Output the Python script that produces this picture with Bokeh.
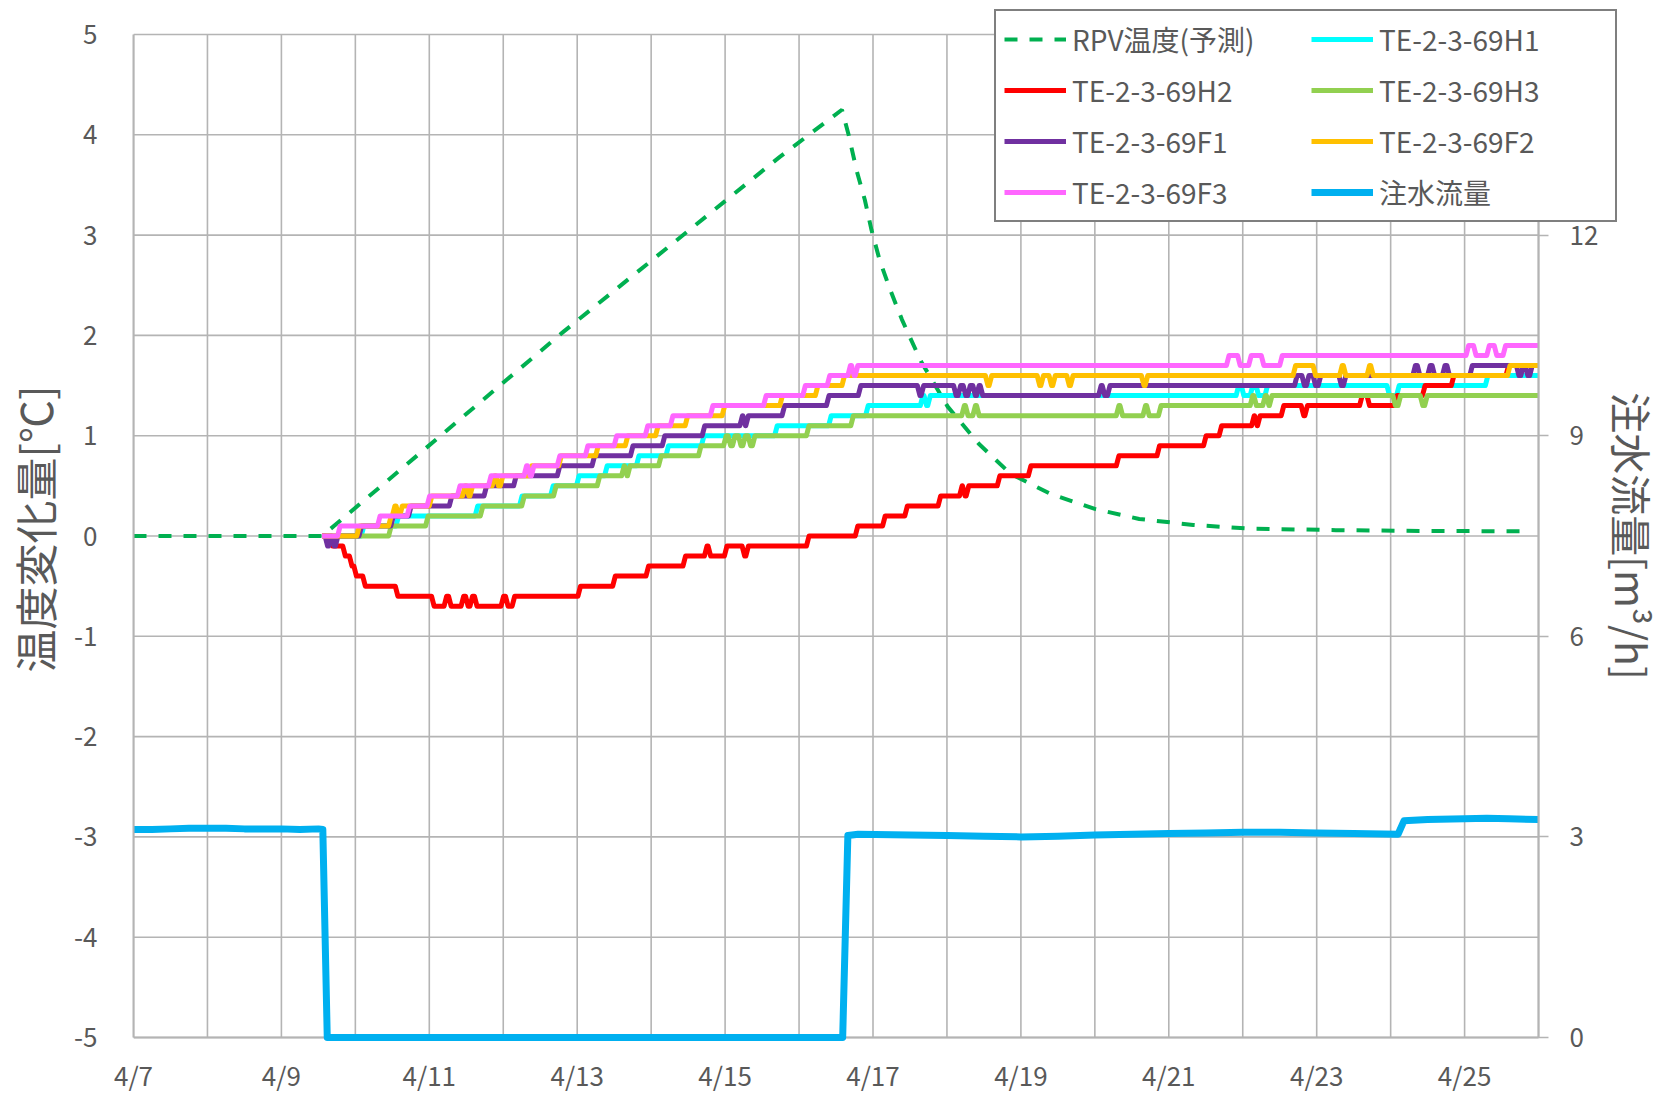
from bokeh.plotting import figure
from bokeh.models import Range1d, LinearAxis, FixedTicker, Legend, LegendItem
from bokeh.embed import file_html
from bokeh.resources import INLINE

# ---------------- data (x = days since 4/7 00:00) ----------------
x_tick_days = [0, 2, 4, 6, 8, 10, 12, 14, 16, 18]
x_tick_labels = ["4/7", "4/9", "4/11", "4/13", "4/15", "4/17", "4/19", "4/21", "4/23", "4/25"]
x_grid_days = list(range(0, 20))
x_end_day = 19  # 4/26
y_left_ticks = [-5, -4, -3, -2, -1, 0, 1, 2, 3, 4, 5]
y_left_labels = ["-5", "-4", "-3", "-2", "-1", "0", "1", "2", "3", "4", "5"]
y_right_ticks = [0, 3, 6, 9, 12]
y_right_max = 15

labels = ["RPV温度(予測)", "TE-2-3-69H1", "TE-2-3-69H2", "TE-2-3-69H3",
          "TE-2-3-69F1", "TE-2-3-69F2", "TE-2-3-69F3", "注水流量"]

rpv_t = [0.0, 2.55, 5.82, 8.74, 9.58, 9.67, 9.78, 9.89, 9.98, 10.09, 10.23, 10.39, 10.5,
         10.65, 11.01, 11.43, 11.86, 12.4, 13.0, 13.6, 14.33, 15.06, 16.26, 17.5, 18.9]
rpv_v = [0.0, 0.0, 2.04, 3.78, 4.25, 4.0, 3.64, 3.35, 3.05, 2.75, 2.46, 2.16, 1.98,
         1.74, 1.29, 0.92, 0.62, 0.42, 0.27, 0.17, 0.11, 0.075, 0.058, 0.05, 0.047]

# step series: value holds from each time until the next
h1_t = [2.58, 3.08, 3.55, 4.62, 5.22, 5.64, 5.99, 6.37, 6.80, 7.20, 7.68, 8.67, 9.40, 9.90,
        10.64, 10.69, 10.74, 14.91, 14.98, 15.10, 15.18, 15.30, 15.45, 16.95, 17.08, 18.28, 19.0]
h1_v = [0.0, 0.1, 0.2, 0.3, 0.4, 0.5, 0.6, 0.7, 0.8, 0.9, 1.0, 1.1, 1.2, 1.3,
        1.4, 1.3, 1.4, 1.5, 1.4, 1.5, 1.4, 1.5, 1.5, 1.4, 1.5, 1.6, 1.6]

h2_t = [2.55, 2.66, 2.83, 2.92, 2.98, 3.10, 3.54, 4.03, 4.20, 4.26, 4.43, 4.49, 4.55, 4.61,
        4.97, 5.03, 5.12, 6.01, 6.48, 6.93, 7.43, 7.72, 7.77, 7.99, 8.23, 8.28, 9.10, 9.76,
        10.13, 10.43, 10.88, 11.17, 11.21, 11.26, 11.68, 12.10, 13.29, 13.84, 14.47, 14.68,
        15.12, 15.16, 15.20, 15.52, 15.79, 15.84, 16.58, 16.68, 17.05, 17.43, 17.82, 18.56, 19.0]
h2_v = [0.0, -0.1, -0.2, -0.3, -0.4, -0.5, -0.6, -0.7, -0.6, -0.7, -0.6, -0.7, -0.6, -0.7,
        -0.6, -0.7, -0.6, -0.5, -0.4, -0.3, -0.2, -0.1, -0.2, -0.1, -0.2, -0.1, 0.0, 0.1,
        0.2, 0.3, 0.4, 0.5, 0.4, 0.5, 0.6, 0.7, 0.8, 0.9, 1.0, 1.1,
        1.2, 1.1, 1.2, 1.3, 1.2, 1.3, 1.4, 1.3, 1.4, 1.5, 1.6, 1.7, 1.7]

h3_t = [2.58, 3.45, 3.95, 4.69, 5.25, 5.68, 6.27, 6.60, 6.64, 6.68, 7.10, 7.64, 7.98, 8.04,
        8.10, 8.18, 8.24, 8.31, 8.37, 9.10, 9.70, 11.20, 11.25, 11.35, 11.40, 13.29, 13.34,
        13.65, 13.70, 13.86, 15.10, 15.15, 15.27, 15.32, 15.36, 17.03, 17.10, 17.40, 17.46, 19.0]
h3_v = [0.0, 0.1, 0.2, 0.3, 0.4, 0.5, 0.6, 0.7, 0.6, 0.7, 0.8, 0.9, 1.0, 0.9,
        1.0, 0.9, 1.0, 0.9, 1.0, 1.1, 1.2, 1.3, 1.2, 1.3, 1.2, 1.3, 1.2,
        1.3, 1.2, 1.3, 1.4, 1.3, 1.4, 1.3, 1.4, 1.3, 1.4, 1.3, 1.4, 1.4]

f1_t = [2.55, 2.59, 2.64, 2.68, 2.73, 3.05, 3.48, 3.72, 4.27, 4.74, 5.14, 5.73, 6.20, 6.72,
        7.15, 7.69, 8.20, 8.24, 8.28, 8.77, 9.37, 9.80, 10.60, 10.65, 11.09, 11.15, 11.22,
        11.28, 11.35, 11.40, 11.45, 13.05, 13.10, 13.17, 15.70, 15.80, 15.86, 15.95, 16.02,
        16.30, 16.36, 17.30, 17.36, 17.50, 17.56, 17.70, 17.76, 18.07, 18.70, 18.76, 18.82, 18.88, 19.0]
f1_v = [0.0, -0.1, 0.0, -0.1, 0.0, 0.1, 0.2, 0.3, 0.4, 0.5, 0.6, 0.7, 0.8, 0.9,
        1.0, 1.1, 1.2, 1.1, 1.2, 1.3, 1.4, 1.5, 1.4, 1.5, 1.4, 1.5, 1.4,
        1.5, 1.4, 1.5, 1.4, 1.5, 1.4, 1.5, 1.6, 1.5, 1.6, 1.5, 1.6,
        1.5, 1.6, 1.7, 1.6, 1.7, 1.6, 1.7, 1.6, 1.7, 1.6, 1.7, 1.6, 1.7, 1.7]

f2_t = [2.55, 3.02, 3.45, 3.50, 3.55, 3.60, 4.00, 4.45, 4.50, 4.55, 4.85, 4.90, 4.96, 5.35,
        5.75, 6.25, 6.65, 7.06, 7.46, 7.96, 8.74, 9.22, 9.58, 11.52, 11.57, 12.22, 12.27,
        12.38, 12.43, 12.62, 12.67, 13.63, 13.68, 15.68, 15.95, 16.31, 16.36, 16.68, 16.73, 18.58, 19.0]
f2_v = [0.0, 0.1, 0.2, 0.3, 0.2, 0.3, 0.4, 0.5, 0.4, 0.5, 0.6, 0.5, 0.6, 0.7,
        0.8, 0.9, 1.0, 1.1, 1.2, 1.3, 1.4, 1.5, 1.6, 1.5, 1.6, 1.5, 1.6,
        1.5, 1.6, 1.5, 1.6, 1.5, 1.6, 1.7, 1.6, 1.7, 1.6, 1.7, 1.6, 1.7, 1.7]

f3_t = [2.55, 2.76, 3.30, 3.70, 3.97, 4.38, 4.80, 5.28, 5.33, 5.38, 5.73, 6.11, 6.50, 6.92,
        7.26, 7.80, 8.52, 9.05, 9.38, 9.66, 9.71, 9.76, 14.78, 14.93, 15.08, 15.25, 15.50,
        18.02, 18.12, 18.30, 18.40, 18.52, 19.0]
f3_v = [0.0, 0.1, 0.2, 0.3, 0.4, 0.5, 0.6, 0.7, 0.6, 0.7, 0.8, 0.9, 1.0, 1.1,
        1.2, 1.3, 1.4, 1.5, 1.6, 1.7, 1.6, 1.7, 1.8, 1.7, 1.8, 1.7, 1.8,
        1.9, 1.8, 1.9, 1.8, 1.9, 1.9]

flow_t = [0.0, 0.25, 0.5, 0.75, 1.0, 1.25, 1.5, 1.75, 2.0, 2.25, 2.5, 2.56, 2.62, 9.59, 9.66,
          9.8, 10.5, 11.0, 11.5, 12.0, 12.5, 13.0, 13.5, 14.0, 14.5, 15.0, 15.5, 16.0, 16.5,
          17.1, 17.18, 17.5, 18.0, 18.3, 18.6, 19.0]
flow_v = [3.11, 3.11, 3.12, 3.13, 3.13, 3.13, 3.12, 3.12, 3.12, 3.11, 3.12, 3.11, 0.0, 0.0, 3.02,
          3.04, 3.03, 3.02, 3.01, 3.0, 3.01, 3.03, 3.04, 3.05, 3.06, 3.07, 3.07, 3.06, 3.05,
          3.04, 3.24, 3.26, 3.27, 3.28, 3.27, 3.26]


def step_path(ts, vs, rise=0.035):
    """Path of a stepped record: each change is drawn as a short slanted riser."""
    xs, ys = [ts[0]], [vs[0]]
    for i in range(1, len(ts)):
        if vs[i] != vs[i - 1]:
            xs += [ts[i], ts[i] + rise]
            ys += [vs[i - 1], vs[i]]
        else:
            xs.append(ts[i])
            ys.append(vs[i])
    return xs, ys


# ---------------- layout / styles ----------------
GRID = "#b4b4b4"
TXT = "#595959"
FONT = "Noto Sans CJK JP"

W, H = 1668, 1097
B_LEFT, B_TOP, B_RIGHT, B_BOTTOM = 133, 8, 0, 48
EXT_BOTTOM = 12          # frame extends a little below -5 so the right "0" label is not cut
PX_PER_DAY = 73.95
PX_PER_DEG = 100.3
frame_w = W - B_LEFT - B_RIGHT
frame_h = H - B_TOP - B_BOTTOM
x_max = frame_w / PX_PER_DAY
y_min = y_left_ticks[0] - EXT_BOTTOM / PX_PER_DEG
y_max = y_min + frame_h / PX_PER_DEG
flow_per_deg = y_right_max / (y_left_ticks[-1] - y_left_ticks[0])

p = figure(width=W, height=H, output_backend="svg", toolbar_location=None,
           x_range=Range1d(0, x_max), y_range=Range1d(y_min, y_max),
           min_border_left=B_LEFT, min_border_right=B_RIGHT,
           min_border_top=B_TOP, min_border_bottom=B_BOTTOM)
p.extra_y_ranges = {"flow": Range1d((y_min - y_left_ticks[0]) * flow_per_deg,
                                    (y_max - y_left_ticks[0]) * flow_per_deg)}
p.outline_line_color = None
p.background_fill_color = "white"
p.xgrid.visible = False
p.ygrid.visible = False

# grid lines limited to the plot area (4/7–4/26, -5..5)
n_x = len(x_grid_days)
n_y = len(y_left_ticks)
p.segment(x0=x_grid_days, y0=[y_left_ticks[0]] * n_x, x1=x_grid_days, y1=[y_left_ticks[-1]] * n_x,
          line_color=GRID, line_width=1.6, level="underlay")
p.segment(x0=[0] * n_y, y0=y_left_ticks, x1=[x_end_day] * n_y, y1=y_left_ticks,
          line_color=GRID, line_width=1.6, level="underlay")
p.segment(x0=[0], y0=[y_left_ticks[0]], x1=[x_end_day], y1=[y_left_ticks[0]],
          line_color=GRID, line_width=2.2, level="underlay")

# bottom axis (its line is the -5 grid line)
xa = p.xaxis[0]
xa.ticker = FixedTicker(ticks=x_tick_days)
xa.major_label_overrides = {d: lab for d, lab in zip(x_tick_days, x_tick_labels)}
xa.bounds = (0, x_end_day)
xa.major_tick_out = 0
xa.major_tick_in = 0
xa.minor_tick_out = 0
xa.minor_tick_in = 0
xa.axis_line_color = None
xa.major_label_standoff = 6
xa.major_label_text_font = FONT
xa.major_label_text_font_size = "26px"
xa.major_label_text_color = TXT

# left axis
ya = p.yaxis[0]
ya.ticker = FixedTicker(ticks=y_left_ticks)
ya.major_label_overrides = {t: lab for t, lab in zip(y_left_ticks, y_left_labels)}
ya.bounds = (y_left_ticks[0], y_left_ticks[-1])
ya.major_tick_out = 0
ya.major_tick_in = 0
ya.minor_tick_out = 0
ya.minor_tick_in = 0
ya.axis_line_color = GRID
ya.axis_line_width = 2
ya.major_label_standoff = 36
ya.major_label_text_font = FONT
ya.major_label_text_font_size = "26px"
ya.major_label_text_color = TXT
ya.axis_label = "温度変化量[℃]"
ya.axis_label_text_font = FONT
ya.axis_label_text_font_size = "43px"
ya.axis_label_text_font_style = "normal"
ya.axis_label_text_color = TXT
ya.axis_label_standoff = 6

# right axis drawn at 4/26 (ticks, labels and title)
ra = LinearAxis(y_range_name="flow", ticker=FixedTicker(ticks=y_right_ticks),
                fixed_location=x_end_day, bounds=(0, y_right_max))
ra.major_tick_out = 10
ra.major_tick_in = 0
ra.minor_tick_out = 0
ra.minor_tick_in = 0
ra.major_tick_line_color = GRID
ra.major_tick_line_width = 1.6
ra.axis_line_color = GRID
ra.axis_line_width = 2
ra.major_label_standoff = 21
ra.major_label_text_font = FONT
ra.major_label_text_font_size = "26px"
ra.major_label_text_color = TXT
ra.major_label_text_align = "left"
ra.axis_label = "注水流量[m³/h]"
ra.axis_label_text_font = FONT
ra.axis_label_text_font_size = "41px"
ra.axis_label_text_font_style = "normal"
ra.axis_label_text_color = TXT
ra.axis_label_standoff = 2
p.add_layout(ra, "right")

# ---------------- series ----------------
r_rpv = p.line(rpv_t, rpv_v, line_color="#00b050", line_width=4, line_dash="13 12")
series = [(h1_t, h1_v, "#00ffff"), (h2_t, h2_v, "#ff0000"), (h3_t, h3_v, "#92d050"),
          (f1_t, f1_v, "#7030a0"), (f2_t, f2_v, "#ffc000"), (f3_t, f3_v, "#ff66ff")]
step_rends = []
for ts, vs, col in series:
    xs, ys = step_path(ts, vs)
    step_rends.append(p.line(xs, ys, line_color=col, line_width=5, line_join="round"))
r_flow = p.line(flow_t, flow_v, y_range_name="flow", line_color="#00b0f0", line_width=7,
                line_join="round")

rends = [r_rpv] + step_rends + [r_flow]
order = [0, 2, 4, 6, 1, 3, 5, 7]  # column-major for a 4-row, 2-column legend
items = [LegendItem(label=labels[i], renderers=[rends[i]]) for i in order]

# legend box: left edge ~994 px, top ~10 px on the page; location is measured from the
# frame's bottom-left corner
LEG_LEFT, LEG_BOTTOM = 994, 222
legend = Legend(items=items, location=(LEG_LEFT - B_LEFT, (H - B_BOTTOM) - LEG_BOTTOM),
                orientation="vertical", nrows=4,
                glyph_width=62, glyph_height=40, label_height=40, label_width=228,
                label_standoff=6, spacing=11, padding=8, margin=0,
                label_text_font=FONT, label_text_font_size="28px", label_text_color=TXT,
                border_line_color="black", border_line_width=2,
                background_fill_color="white", background_fill_alpha=1.0)
p.add_layout(legend)

open("out.html", "w").write(file_html(p, INLINE))
